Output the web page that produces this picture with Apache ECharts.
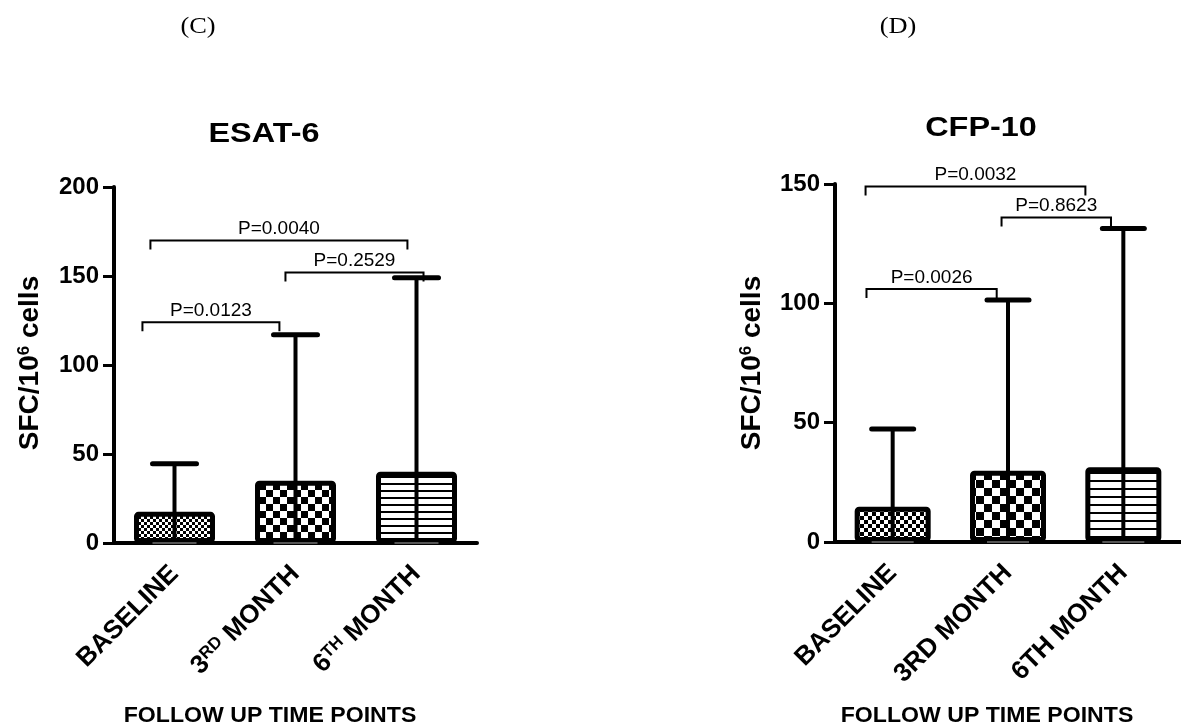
<!DOCTYPE html>
<html>
<head>
<meta charset="utf-8">
<script src="https://cdn.jsdelivr.net/npm/echarts@6/dist/echarts.min.js"></script>
<style>
html,body{margin:0;padding:0;background:#fff;}
#chart{width:1181px;height:728px;}
</style>
</head>
<body>
<div id="chart"></div>
<script>
// ---------- data ----------
const categories = ['BASELINE', '3RD MONTH', '6TH MONTH'];
const yTicksLeft = [0, 50, 100, 150, 200];
const yTicksRight = [0, 50, 100, 150];

// ESAT-6 (panel C)
const esatMean = [17.5, 35, 40];
const esatUpper = [44.5, 117, 149];
const esatLower = [0, 0, 0];
// brackets: [start position (category units), end position, y value]
const esatBrackets = [[-0.265, 0.867, 124], [0.917, 2.058, 152], [-0.199, 1.925, 170]];
const esatPLabels = ['P=0.0123', 'P=0.2529', 'P=0.0040'];

// CFP-10 (panel D)
const cfpMean = [14.8, 29.9, 31.3];
const cfpUpper = [47.3, 101.4, 131.4];
const cfpLower = [0, 0, 0];
const cfpBrackets = [[-0.227, 0.902, 106], [0.944, 1.893, 136], [-0.235, 1.671, 149]];
const cfpPLabels = ['P=0.0026', 'P=0.8623', 'P=0.0032'];

// ---------- patterns ----------
function checker(cell) {
  const c = document.createElement('canvas');
  c.width = c.height = cell * 2;
  const g = c.getContext('2d');
  g.fillStyle = '#fff'; g.fillRect(0, 0, cell * 2, cell * 2);
  g.fillStyle = '#000';
  g.fillRect(0, 0, cell, cell);
  g.fillRect(cell, cell, cell, cell);
  return c;
}
function hlines(gap, th) {
  const c = document.createElement('canvas');
  c.width = 4; c.height = gap;
  const g = c.getContext('2d');
  g.fillStyle = '#fff'; g.fillRect(0, 0, 4, gap);
  g.fillStyle = '#000'; g.fillRect(0, 0, 4, th);
  return c;
}
const patL = [checker(3), checker(7), hlines(7, 2)];
const patR = [checker(4), checker(8), hlines(8, 2)];

const FONT = '"Liberation Sans", Arial, sans-serif';

function barData(vals, pats) {
  return vals.map((v, i) => ({ value: v, itemStyle: { color: { image: pats[i], repeat: 'repeat' } } }));
}
function errData(lo, hi) { return hi.map((h, i) => [i, lo[i], h]); }
function brData(br) { return br.map(b => [0, b[2], b[0], b[1]]); }

function errRender(capW) {
  return function (params, api) {
    const i = api.value(0);
    const pLo = api.coord([i, api.value(1)]);
    const pHi = api.coord([i, api.value(2)]);
    const hw = capW / 2;
    return {
      type: 'group', children: [
        { type: 'line', shape: { x1: pLo[0], y1: pLo[1], x2: pHi[0], y2: pHi[1] }, style: { stroke: '#000', lineWidth: 4 } },
        { type: 'line', shape: { x1: pHi[0] - hw, y1: pHi[1], x2: pHi[0] + hw, y2: pHi[1] }, style: { stroke: '#000', lineWidth: 5, lineCap: 'round' } },
        { type: 'line', shape: { x1: pLo[0] - hw, y1: pLo[1], x2: pLo[0] + hw, y2: pLo[1] }, style: { stroke: '#555', lineWidth: 2 } }
      ]
    };
  };
}
function brRender(labels) {
  return function (params, api) {
    const base = api.coord([0, api.value(1)]);
    const band = api.size([1, 0])[0];
    const x1 = base[0] + api.value(2) * band;
    const x2 = base[0] + api.value(3) * band;
    const y = base[1];
    return {
      type: 'group', children: [
        { type: 'polyline', shape: { points: [[x1, y + 9], [x1, y], [x2, y], [x2, y + 9]] }, style: { stroke: '#000', lineWidth: 2, fill: null } },
        { type: 'text', x: (x1 + x2) / 2, y: y - 2, style: { text: labels[params.dataIndex], fill: '#000', font: '19px ' + FONT, align: 'center', verticalAlign: 'bottom' } }
      ]
    };
  };
}

function xAxisCfg(grid, sup) {
  return {
    type: 'category', gridIndex: grid, data: categories,
    axisLine: { lineStyle: { color: '#000', width: 4 } },
    axisTick: { alignWithLabel: true, length: 11, lineStyle: { color: '#000', width: 3 } },
    axisLabel: {
      interval: 0, rotate: 45, margin: 27, color: '#000', fontFamily: FONT, fontWeight: 'bold', fontSize: 26,
      formatter: sup ? (v => v.replace(/^(\d)(RD|TH)/, '$1{sup|$2}')) : (v => v),
      rich: { sup: { fontFamily: FONT, fontWeight: 'bold', fontSize: 17, verticalAlign: 'top', color: '#000' } }
    }
  };
}
function yAxisCfg(grid, ticks) {
  return {
    type: 'value', gridIndex: grid, min: ticks[0], max: ticks[ticks.length - 1], interval: ticks[1] - ticks[0],
    splitLine: { show: false },
    axisLine: { show: true, lineStyle: { color: '#000', width: 4 } },
    axisTick: { show: true, length: 11, lineStyle: { color: '#000', width: 3 } },
    axisLabel: { margin: 15, color: '#000', fontFamily: FONT, fontWeight: 'bold', fontSize: 24 }
  };
}

const nameRich = {
  n: { font: 'bold 28px ' + FONT, fill: '#000' },
  s: { font: 'bold 17px ' + FONT, fill: '#000', verticalAlign: 'top' }
};
function txt(text, x, y, font, sx) {
  return { type: 'text', x: x, y: y, scaleX: sx || 1, style: { text: text, font: font, fill: '#000', align: 'center', verticalAlign: 'middle' } };
}

const chart = echarts.init(document.getElementById('chart'), null, { renderer: 'canvas' });
chart.setOption({
  animation: false,
  backgroundColor: '#fff',
  grid: [
    { left: 114, top: 187, width: 363, height: 356 },
    { left: 835, top: 184, width: 351, height: 358 }
  ],
  xAxis: [xAxisCfg(0, true), xAxisCfg(1, false)],
  yAxis: [yAxisCfg(0, yTicksLeft), yAxisCfg(1, yTicksRight)],
  series: [
    { type: 'bar', xAxisIndex: 0, yAxisIndex: 0, barWidth: 81, data: barData(esatMean, patL),
      itemStyle: { borderColor: '#000', borderWidth: 5, borderRadius: 2 } },
    { type: 'custom', xAxisIndex: 0, yAxisIndex: 0, z: 5, data: errData(esatLower, esatUpper), encode: { x: 0, y: [1, 2] }, renderItem: errRender(44) },
    { type: 'custom', xAxisIndex: 0, yAxisIndex: 0, z: 5, data: brData(esatBrackets), encode: { x: 0, y: 1 }, renderItem: brRender(esatPLabels) },
    { type: 'bar', xAxisIndex: 1, yAxisIndex: 1, barWidth: 76, data: barData(cfpMean, patR),
      itemStyle: { borderColor: '#000', borderWidth: 5, borderRadius: 2 } },
    { type: 'custom', xAxisIndex: 1, yAxisIndex: 1, z: 5, data: errData(cfpLower, cfpUpper), encode: { x: 0, y: [1, 2] }, renderItem: errRender(42) },
    { type: 'custom', xAxisIndex: 1, yAxisIndex: 1, z: 5, data: brData(cfpBrackets), encode: { x: 0, y: 1 }, renderItem: brRender(cfpPLabels) }
  ],
  graphic: [
    txt('(C)', 198, 27, '24px "Liberation Serif", "Times New Roman", serif', 1.1),
    txt('(D)', 898, 27, '24px "Liberation Serif", "Times New Roman", serif', 1.1),
    txt('ESAT-6', 264, 135, 'bold 27px ' + FONT, 1.2),
    txt('CFP-10', 981, 129, 'bold 27px ' + FONT, 1.2),
    txt('FOLLOW UP TIME POINTS', 270, 716, 'bold 22px ' + FONT, 1.05),
    txt('FOLLOW UP TIME POINTS', 987, 716, 'bold 22px ' + FONT, 1.05),
    { type: 'text', x: 30, y: 363, rotation: Math.PI / 2,
      style: { text: '{n|SFC/10}{s|6}{n| cells}', rich: nameRich, align: 'center', verticalAlign: 'middle' } },
    { type: 'text', x: 752, y: 363, rotation: Math.PI / 2,
      style: { text: '{n|SFC/10}{s|6}{n| cells}', rich: nameRich, align: 'center', verticalAlign: 'middle' } }
  ]
});
</script>
</body>
</html>
